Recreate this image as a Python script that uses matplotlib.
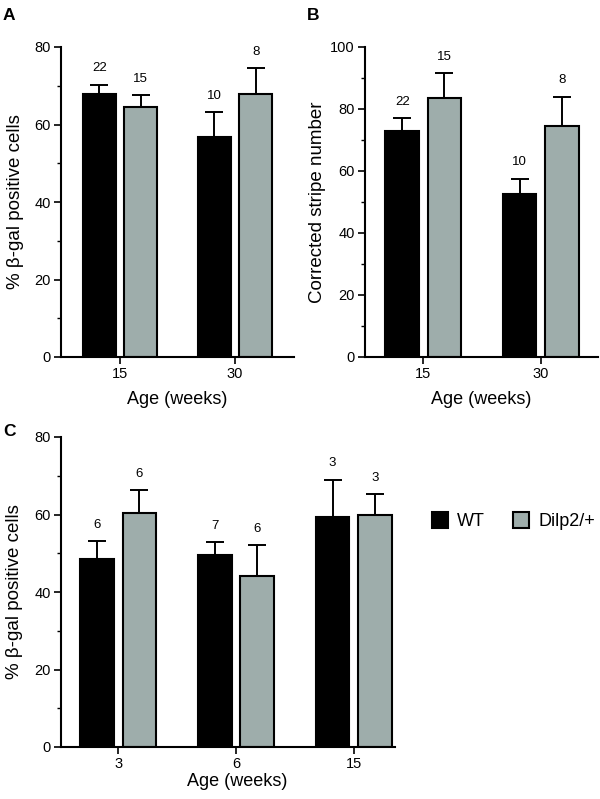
import matplotlib
matplotlib.use("Agg")
import matplotlib.pyplot as plt
from matplotlib.ticker import MultipleLocator
import numpy as np

plt.rcParams['font.family'] = ['Liberation Sans', 'DejaVu Sans']

# ---- data ----
ages_a = ["15", "30"]
wt_a = [68.0, 56.9]
wt_a_err = [2.3, 6.2]
dilp_a = [64.6, 68.0]
dilp_a_err = [3.0, 6.6]
n_wt_a = ["22", "10"]
n_dilp_a = ["15", "8"]

ages_b = ["15", "30"]
wt_b = [72.8, 52.6]
wt_b_err = [4.2, 4.9]
dilp_b = [83.5, 74.4]
dilp_b_err = [8.1, 9.5]
n_wt_b = ["22", "10"]
n_dilp_b = ["15", "8"]

ages_c = ["3", "6", "15"]
wt_c = [48.4, 49.5, 59.4]
wt_c_err = [4.7, 3.4, 9.6]
dilp_c = [60.4, 44.1, 59.9]
dilp_c_err = [5.9, 8.0, 5.3]
n_wt_c = ["6", "7", "3"]
n_dilp_c = ["6", "6", "3"]

series_names = ["WT", "Dilp2/+"]
BLACK = "#000000"
GRAY = "#9eadab"

W, H = 600, 799
fig = plt.figure(figsize=(6.0, 7.99), dpi=100)


def axes_px(left, top, right, bottom):
    return fig.add_axes([left / W, 1 - bottom / H, (right - left) / W, (bottom - top) / H])


def panel(ax, cats, wt, wte, dl, dle, nwt, ndl, ymax, xlim, ylabel, ylab_x):
    x = np.arange(len(cats))
    off, bw = 0.18, 0.285
    b1 = ax.bar(x - off, wt, bw, color=BLACK, edgecolor="black", linewidth=1.5, zorder=2)
    b2 = ax.bar(x + off, dl, bw, color=GRAY, edgecolor="black", linewidth=1.5, zorder=2)
    ax.errorbar(x - off, wt, yerr=[np.zeros(len(wt)), wte], fmt="none", ecolor="black",
                elinewidth=1.4, capsize=6.5, capthick=1.4, zorder=1)
    ax.errorbar(x + off, dl, yerr=[np.zeros(len(dl)), dle], fmt="none", ecolor="black",
                elinewidth=1.4, capsize=6.5, capthick=1.4, zorder=1)
    for xi, v, e, t in zip(x - off, wt, wte, nwt):
        ax.annotate(t, (xi, v + e), xytext=(0, 7.5), textcoords="offset points",
                    ha="center", va="bottom", fontsize=9.5)
    for xi, v, e, t in zip(x + off, dl, dle, ndl):
        ax.annotate(t, (xi, v + e), xytext=(0, 7.5), textcoords="offset points",
                    ha="center", va="bottom", fontsize=9.5)
    ax.set_xlim(*xlim)
    ax.set_ylim(0, ymax)
    ax.set_xticks(x)
    ax.set_xticklabels(cats)
    ax.yaxis.set_major_locator(MultipleLocator(20))
    ax.yaxis.set_minor_locator(MultipleLocator(10))
    for s in ["top", "right"]:
        ax.spines[s].set_visible(False)
    for s in ["left", "bottom"]:
        ax.spines[s].set_linewidth(1.5)
    ax.tick_params(axis="both", which="major", direction="out", length=5, width=1.2,
                   labelsize=10.5, pad=2.5)
    ax.tick_params(axis="y", which="minor", direction="out", length=3, width=1.0)
    ax.set_ylabel(ylabel, fontsize=13.5, va="center")
    ax.yaxis.set_label_coords(ylab_x, 0.5)
    ax.set_xlabel("Age (weeks)", fontsize=13, va="top")
    return b1, b2


axA = axes_px(61, 47, 294, 357)
panel(axA, ages_a, wt_a, wt_a_err, dilp_a, dilp_a_err, n_wt_a, n_dilp_a, 80,
      (-0.513, 1.513), "% \u03b2-gal positive cells", -0.197)
axA.xaxis.set_label_coords(0.5, -0.11)

axB = axes_px(365, 47, 598, 357)
panel(axB, ages_b, wt_b, wt_b_err, dilp_b, dilp_b_err, n_wt_b, n_dilp_b, 100,
      (-0.497, 1.488), "Corrected stripe number", -0.202)
axB.xaxis.set_label_coords(0.5, -0.11)

axC = axes_px(61, 437, 395, 747)
h1, h2 = panel(axC, ages_c, wt_c, wt_c_err, dilp_c, dilp_c_err, n_wt_c, n_dilp_c, 80,
               (-0.486, 2.35), "% \u03b2-gal positive cells", -0.14)
axC.xaxis.set_label_coords(0.528, -0.083)

fig.legend([h1, h2], series_names, loc="center left",
           bbox_to_anchor=(432 / W, 1 - 521 / H), ncol=2, frameon=False,
           fontsize=13, handlelength=0.9, handleheight=0.95, handletextpad=0.5,
           columnspacing=1.55, borderpad=0, borderaxespad=0)

fig.text(3 / W, 1 - 16 / H, "A", fontsize=12.5, fontweight="bold", va="center", ha="left")
fig.text(307 / W, 1 - 16 / H, "B", fontsize=12.5, fontweight="bold", va="center", ha="left")
fig.text(3 / W, 1 - 432 / H, "C", fontsize=12.5, fontweight="bold", va="center", ha="left")

fig.savefig("out.png", dpi=100)
